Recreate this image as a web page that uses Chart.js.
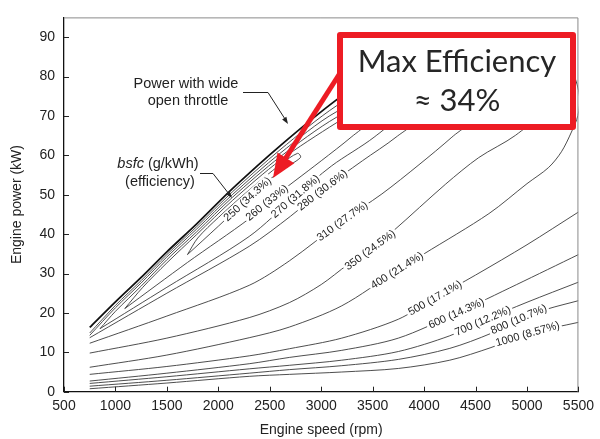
<!DOCTYPE html>
<html>
<head>
<meta charset="utf-8">
<title>BSFC map</title>
<script src="https://cdn.jsdelivr.net/npm/chart.js@4.4.0/dist/chart.umd.min.js"></script>
<style>
    html, body { margin: 0; padding: 0; background: #fff; }
    #wrap { width: 600px; height: 439px; }
</style>
</head>
<body>
<div id="wrap"><canvas id="bsfcChart" width="600" height="439"></canvas></div>
<script>
// axis ticks
const speedTicks = [500, 1000, 1500, 2000, 2500, 3000, 3500, 4000, 4500, 5000, 5500];
const powerTicks = [0, 10, 20, 30, 40, 50, 60, 70, 80, 90];

// wide open throttle power, [rpm, kW]
const wotPower = [[750, 16.3], [1000, 22.8], [1250, 29.0], [1500, 35.5], [1790, 42.6], [2140, 51.6],
    [2600, 62.4], [3145, 74.0], [3600, 82.0], [4000, 86.8]];

// bsfc contours, [rpm, kW], lower branch first
const bsfc250 = [[1700, 34.8], [2000, 42.0], [2283, 48.9], [2520, 54.3], [2700, 57.6], [2800, 59.5],
    [2770, 60.5], [2600, 57.6], [2300, 51.2], [2000, 44.2], [1800, 39.0], [1700, 34.8]];
const bsfc260 = [[1091, 21.1], [1700, 32.8], [2300, 43.9], [2472, 48.0], [3000, 58.6], [3291, 64.6],
    [3450, 68.5], [3300, 70.2], [3145, 68.2], [2600, 58.7], [2140, 48.6], [1790, 39.9], [1500, 32.7],
    [1266, 26.5], [1091, 21.1]];
const bsfc270 = [[850, 16.0], [1500, 26.5], [2300, 39.4], [2748, 49.6], [3100, 57.3], [3514, 64.6],
    [3700, 69.5], [3450, 72.5], [3145, 69.6], [2600, 59.6], [2140, 49.4], [1790, 40.6], [1500, 33.5],
    [1250, 26.8], [1000, 20.4], [850, 16.0]];
const bsfc280 = [[750, 13.7], [1500, 25.0], [2300, 36.9], [2700, 44.5], [3010, 51.2], [3400, 58.6],
    [3727, 64.6], [3950, 70.0], [3600, 75.0], [3145, 71.0], [2600, 60.5], [2140, 50.1], [1790, 41.3],
    [1500, 34.2], [1250, 27.6], [1000, 21.3], [750, 14.3]];
const bsfc310 = [[750, 12.3], [1500, 19.2], [2300, 27.0], [2690, 33.2], [3204, 43.3], [3590, 50.2],
    [3950, 57.6], [4270, 64.6], [4550, 71.5], [4200, 78.0], [3600, 78.8], [3145, 72.5], [2600, 61.4],
    [2140, 50.8], [1790, 41.9], [1500, 34.8], [1250, 28.2], [1000, 21.9], [750, 14.9]];
const bsfc350 = [[750, 9.8], [1500, 13.6], [2300, 18.8], [2690, 22.6], [3000, 27.2], [3260, 32.3],
    [3475, 36.0], [3700, 40.8], [4210, 52.7], [4530, 59.4], [4890, 65.1], [5100, 70.5], [5050, 76.0],
    [4700, 80.5]];
const bsfc400 = [[750, 6.2], [1500, 9.3], [2300, 13.7], [2690, 16.4], [3200, 21.8], [3736, 30.8],
    [4000, 35.0], [4630, 45.2], [5000, 52.8], [5210, 56.9], [5335, 60.9], [5432, 65.9], [5495, 70.1],
    [5510, 75.0], [5452, 80.7], [5355, 85.0], [5200, 88.3], [5000, 89.5], [4700, 90.0], [4400, 89.8],
    [4143, 88.8], [4000, 87.6]];
const bsfc500 = [[750, 4.4], [1500, 6.4], [2300, 9.1], [2690, 10.9], [3200, 13.6], [3750, 18.4],
    [4105, 23.8], [4500, 29.6], [5000, 37.3], [5500, 45.6]];
const bsfc600 = [[750, 2.7], [1500, 4.7], [2300, 7.1], [2690, 8.7], [3200, 10.5], [3750, 13.6],
    [4313, 19.9], [4900, 27.2], [5500, 34.8]];
const bsfc700 = [[750, 2.1], [1500, 3.8], [2300, 5.8], [2690, 6.7], [3200, 8.0], [3750, 10.2],
    [4250, 14.2], [4570, 18.0], [5000, 22.7], [5500, 27.8]];
const bsfc800 = [[750, 1.4], [1500, 2.9], [2300, 4.7], [2690, 5.6], [3200, 6.6], [3750, 8.2],
    [4250, 11.0], [4650, 14.8], [4919, 18.4], [5200, 21.0], [5500, 23.1]];
const bsfc1000 = [[750, 0.75], [1500, 2.2], [2300, 3.9], [2690, 4.4], [3200, 5.0], [3750, 5.9],
    [4250, 8.0], [4650, 11.2], [5006, 14.7], [5500, 17.6]];

// contour labels
const contourLevels = [250, 260, 270, 280, 310, 350, 400, 500, 600, 700, 800, 1000];
const contourEfficiency = ["34.3%", "33%", "31.8%", "30.6%", "27.7%", "24.5%", "21.4%", "17.1%",
    "14.3%", "12.2%", "10.7%", "8.57%"];
const labelSpeed = [2283, 2472, 2748, 3010, 3204, 3475, 3736, 4105, 4313, 4570, 4919, 5006];
const labelPower = [48.9, 48.0, 49.6, 51.2, 43.3, 36.0, 30.8, 23.8, 19.9, 18.0, 18.4, 14.7];

const contourSeries = [bsfc250, bsfc260, bsfc270, bsfc280, bsfc310, bsfc350, bsfc400, bsfc500,
    bsfc600, bsfc700, bsfc800, bsfc1000];

const FONT = '"Liberation Sans", Arial, Helvetica, sans-serif';
const RED = "#ed1c24";

function toPoints(list) {
    return list.map(([x, y]) => ({ x, y }));
}

const datasets = [{
    label: "WOT",
    data: toPoints(wotPower),
    borderColor: "#111",
    borderWidth: 1.8,
    tension: 0.3
}].concat(contourSeries.map((series, i) => ({
    label: `bsfc ${contourLevels[i]}`,
    data: toPoints(series),
    borderColor: "#3a3a3a",
    borderWidth: 0.9,
    tension: 0.3
})));
datasets.forEach((ds) => {
    ds.showLine = true;
    ds.pointRadius = 0;
    ds.borderJoinStyle = "round";
});

// rotated bsfc labels sitting on their lines
const contourLabelPlugin = {
    id: "contourLabels",
    afterDatasetsDraw(chart) {
        const { ctx, scales: { x, y } } = chart;
        ctx.save();
        ctx.font = `11px ${FONT}`;
        ctx.textAlign = "center";
        ctx.textBaseline = "middle";
        contourLevels.forEach((level, k) => {
            const series = contourSeries[k];
            const i = series.findIndex((p) => p[0] === labelSpeed[k] && p[1] === labelPower[k]);
            if (i < 1) return;
            const a = series[i - 1];
            const b = series[i + 1];
            const dx = x.getPixelForValue(b[0]) - x.getPixelForValue(a[0]);
            const dy = y.getPixelForValue(b[1]) - y.getPixelForValue(a[1]);
            const angle = Math.atan2(dy, dx);
            const text = `${level} (${contourEfficiency[k]})`;
            const w = ctx.measureText(text).width;
            ctx.save();
            ctx.translate(x.getPixelForValue(labelSpeed[k]), y.getPixelForValue(labelPower[k]));
            ctx.rotate(angle);
            ctx.fillStyle = "#fff";
            ctx.fillRect(-w / 2 - 2, -5.5, w + 4, 11);
            ctx.fillStyle = "#222";
            ctx.fillText(text, 0, 0.5);
            ctx.restore();
        });
        ctx.restore();
    }
};

// grey top/right frame and inward tick marks
const framePlugin = {
    id: "frame",
    afterDraw(chart) {
        const { ctx, chartArea: area, scales: { x, y } } = chart;
        ctx.save();
        ctx.strokeStyle = "#8a8a8a";
        ctx.lineWidth = 1;
        ctx.beginPath();
        ctx.moveTo(area.left, area.top + 0.5);
        ctx.lineTo(area.right - 0.5, area.top + 0.5);
        ctx.lineTo(area.right - 0.5, area.bottom);
        ctx.stroke();

        ctx.strokeStyle = "#222";
        ctx.beginPath();
        speedTicks.forEach((v) => {
            const px = Math.round(x.getPixelForValue(v)) + 0.5;
            ctx.moveTo(px, area.bottom);
            ctx.lineTo(px, area.bottom - 5);
        });
        powerTicks.forEach((v) => {
            const py = Math.round(y.getPixelForValue(v)) + 0.5;
            ctx.moveTo(area.left, py);
            ctx.lineTo(area.left + 5, py);
        });
        ctx.stroke();
        ctx.restore();
    }
};

function arrowHead(ctx, fx, fy, tx, ty, len, half) {
    const ang = Math.atan2(ty - fy, tx - fx);
    ctx.beginPath();
    ctx.moveTo(tx, ty);
    ctx.lineTo(tx - len * Math.cos(ang) + half * Math.sin(ang), ty - len * Math.sin(ang) - half * Math.cos(ang));
    ctx.lineTo(tx - len * Math.cos(ang) - half * Math.sin(ang), ty - len * Math.sin(ang) + half * Math.cos(ang));
    ctx.closePath();
    ctx.fill();
}

// text notes, leaders and the red callout
const notePlugin = {
    id: "notes",
    afterDraw(chart) {
        const ctx = chart.ctx;
        ctx.save();
        ctx.fillStyle = "#222";
        ctx.strokeStyle = "#222";
        ctx.lineWidth = 1;
        ctx.textAlign = "center";
        ctx.textBaseline = "middle";
        ctx.font = `14.5px ${FONT}`;
        ctx.fillText("Power with wide", 186, 84);
        ctx.fillText("open throttle", 188, 101);

        ctx.beginPath();
        ctx.moveTo(243, 92.5);
        ctx.lineTo(268, 92.5);
        ctx.lineTo(285, 119);
        ctx.stroke();
        arrowHead(ctx, 268, 92.5, 288, 124, 7, 2.5);

        // bsfc (g/kWh) with italic bsfc
        ctx.textAlign = "left";
        ctx.font = `italic 14.5px ${FONT}`;
        const wItalic = ctx.measureText("bsfc").width;
        ctx.font = `14.5px ${FONT}`;
        const wRest = ctx.measureText(" (g/kWh)").width;
        const startX = 158 - (wItalic + wRest) / 2;
        ctx.font = `italic 14.5px ${FONT}`;
        ctx.fillText("bsfc", startX, 164);
        ctx.font = `14.5px ${FONT}`;
        ctx.fillText(" (g/kWh)", startX + wItalic, 164);
        ctx.textAlign = "center";
        ctx.fillText("(efficiency)", 160, 182);

        ctx.beginPath();
        ctx.moveTo(200, 173.5);
        ctx.lineTo(213, 173.5);
        ctx.lineTo(229, 194);
        ctx.stroke();
        arrowHead(ctx, 213, 173.5, 232, 198, 7, 2.5);

        // red arrow
        const sx = 342, sy = 70, tx = 273, ty = 178;
        const ang = Math.atan2(ty - sy, tx - sx);
        const headLen = 24;
        ctx.strokeStyle = RED;
        ctx.fillStyle = RED;
        ctx.lineWidth = 5;
        ctx.beginPath();
        ctx.moveTo(sx, sy);
        ctx.lineTo(tx - (headLen - 4) * Math.cos(ang), ty - (headLen - 4) * Math.sin(ang));
        ctx.stroke();
        arrowHead(ctx, sx, sy, tx, ty, headLen, 10);

        // callout box
        ctx.fillStyle = "#fff";
        ctx.fillRect(340, 35, 233, 92);
        ctx.lineWidth = 6;
        ctx.lineJoin = "round";
        ctx.strokeRect(340, 35, 233, 92);
        ctx.fillStyle = "#262626";
        ctx.font = '31px Lato, "Open Sans", sans-serif';
        ctx.fillText("Max Efficiency", 457, 62);
        ctx.fillText("\u2248 34%", 457, 101);
        ctx.restore();
    }
};

Chart.defaults.font.family = FONT;
Chart.defaults.color = "#222";

new Chart(document.getElementById("bsfcChart"), {
    type: "scatter",
    data: { datasets },
    options: {
        responsive: false,
        animation: false,
        layout: { padding: { top: 9.5, right: 20, left: 0, bottom: 0 } },
        plugins: {
            legend: { display: false },
            tooltip: { enabled: false }
        },
        scales: {
            x: {
                type: "linear",
                min: 500,
                max: 5500,
                afterBuildTicks: (s) => { s.ticks = speedTicks.map((v) => ({ value: v })); },
                afterFit: (s) => { s.height = 47.3; },
                grid: { display: false, drawTicks: false },
                border: { display: true, color: "#111", width: 1.3 },
                ticks: {
                    font: { size: 14 },
                    padding: 6,
                    maxRotation: 0,
                    autoSkip: false,
                    callback: (v) => String(v)
                },
                title: {
                    display: true,
                    text: "Engine speed (rpm)",
                    font: { size: 14 },
                    padding: { top: 0, bottom: 0 }
                }
            },
            y: {
                type: "linear",
                min: 0,
                max: 95,
                afterBuildTicks: (s) => { s.ticks = powerTicks.map((v) => ({ value: v })); },
                afterFit: (s) => { s.width = 64; },
                grid: { display: false, drawTicks: false },
                border: { display: true, color: "#111", width: 1.3 },
                ticks: {
                    font: { size: 14 },
                    padding: 9,
                    autoSkip: false,
                    callback: (v) => String(v)
                },
                title: {
                    display: true,
                    text: "Engine power (kW)",
                    font: { size: 14 },
                    padding: { top: 9, bottom: 0 }
                }
            }
        }
    },
    plugins: [contourLabelPlugin, framePlugin, notePlugin]
});
</script>
</body>
</html>
